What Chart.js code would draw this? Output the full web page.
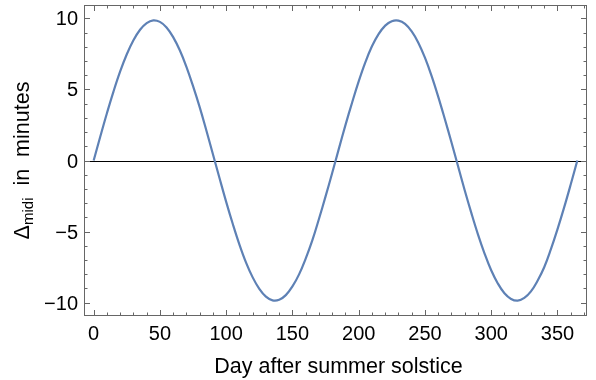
<!DOCTYPE html>
<html>
<head>
<meta charset="utf-8">
<script src="https://cdn.jsdelivr.net/npm/chart.js@4/dist/chart.umd.min.js"></script>
<style>
  body { margin: 0; background: #fff; }
  canvas { display: block; }
</style>
</head>
<body>
<canvas id="myChart" width="596" height="380"></canvas>
<script>
// data, every 5 days
const days = [0, 5, 10, 15, 20, 25, 30, 35, 40, 45, 50, 55, 60, 65, 70, 75, 80, 85, 90, 95,
  100, 105, 110, 115, 120, 125, 130, 135, 140, 145, 150, 155, 160, 165, 170, 175, 180, 185, 190, 195,
  200, 205, 210, 215, 220, 225, 230, 235, 240, 245, 250, 255, 260, 265, 270, 275, 280, 285, 290, 295,
  300, 305, 310, 315, 320, 325, 330, 335, 340, 345, 350, 355, 360, 365]
const deltaMidi = [0, 1.69, 3.33, 4.87, 6.27, 7.48, 8.47, 9.21, 9.68, 9.87, 9.76, 9.37, 8.69, 7.76, 6.60, 5.24, 3.76, 2.13, 0.44, -1.25,
  -2.91, -4.47, -5.92, -7.19, -8.23, -9.04, -9.59, -9.85, -9.81, -9.48, -8.87, -8.02, -6.91, -5.63, -4.12, -2.53, -0.88, 0.82, 2.49, 4.07,
  5.57, 6.91, 8.04, 8.90, 9.50, 9.81, 9.85, 9.62, 9.09, 8.30, 7.24, 5.96, 4.50, 2.92, 1.28, -0.41, -2.09, -3.69, -5.20, -6.55,
  -7.73, -8.66, -9.35, -9.75, -9.87, -9.68, -9.22, -8.47, -7.52, -6.26, -4.85, -3.32, -1.69, 0]
const xTicks = [0, 50, 100, 150, 200, 250, 300, 350]
const xMinor = [10, 20, 30, 40, 60, 70, 80, 90, 110, 120, 130, 140, 160, 170, 180, 190, 210, 220, 230, 240,
  260, 270, 280, 290, 310, 320, 330, 340, 360, 370]
const yTicks = [-10, -5, 0, 5, 10]
const yMinor = [-9, -8, -7, -6, -4, -3, -2, -1, 1, 2, 3, 4, 6, 7, 8, 9]
const xTitle = 'Day after summer solstice'

const frameColor = '#666'
const tickFont = '20px "Liberation Sans", Arial, sans-serif'
const titleFont = '21.5px "Liberation Sans", Arial, sans-serif'
const subFont = '15px "Liberation Sans", Arial, sans-serif'

// frame, inward ticks, labels and axis titles (Mathematica style)
const framePlugin = {
  id: 'frame',
  beforeDatasetsDraw(chart) {
    const {ctx, chartArea: a, scales: {y}} = chart
    ctx.save()
    // zero line
    ctx.strokeStyle = '#000'
    ctx.lineWidth = 1
    const y0 = Math.round(y.getPixelForValue(0)) + 0.5
    ctx.beginPath()
    ctx.moveTo(a.left, y0)
    ctx.lineTo(a.right, y0)
    ctx.stroke()
    ctx.restore()
  },
  afterDraw(chart) {
    const {ctx, chartArea: a, scales: {x, y}} = chart
    ctx.save()
    ctx.strokeStyle = frameColor
    ctx.lineWidth = 1
    ctx.strokeRect(a.left + 0.5, a.top + 0.5, a.right - a.left - 1, a.bottom - a.top - 1)

    const tickX = (v, len) => {
      const px = Math.round(x.getPixelForValue(v)) + 0.5
      ctx.moveTo(px, a.bottom); ctx.lineTo(px, a.bottom - len)
      ctx.moveTo(px, a.top); ctx.lineTo(px, a.top + len)
    }
    const tickY = (v, len) => {
      const py = Math.round(y.getPixelForValue(v)) + 0.5
      ctx.moveTo(a.left, py); ctx.lineTo(a.left + len, py)
      ctx.moveTo(a.right, py); ctx.lineTo(a.right - len, py)
    }
    ctx.beginPath()
    xTicks.forEach(v => tickX(v, 6))
    xMinor.forEach(v => tickX(v, 3.5))
    yTicks.forEach(v => tickY(v, 6))
    yMinor.forEach(v => tickY(v, 3.5))
    ctx.stroke()

    ctx.fillStyle = '#000'
    ctx.font = tickFont
    ctx.textAlign = 'center'
    ctx.textBaseline = 'alphabetic'
    xTicks.forEach(v => ctx.fillText(String(v), x.getPixelForValue(v), a.bottom + 24))
    ctx.textAlign = 'right'
    yTicks.forEach(v => {
      const s = v < 0 ? '\u2212' + Math.abs(v) : String(v)
      ctx.fillText(s, a.left - 6, y.getPixelForValue(v) + 7)
    })

    // x title
    ctx.textAlign = 'center'
    ctx.font = titleFont
    ctx.fillText(xTitle, (a.left + a.right) / 2 + 3, a.bottom + 57)

    // y title with subscript
    const parts = [['\u0394', titleFont, 0], ['midi', subFont, 4], ['  in  minutes', titleFont, 0]]
    let w = 0
    parts.forEach(p => { ctx.font = p[1]; w += ctx.measureText(p[0]).width })
    ctx.translate(29, (a.top + a.bottom) / 2)
    ctx.rotate(-Math.PI / 2)
    ctx.textAlign = 'left'
    let cx = -w / 2
    parts.forEach(p => {
      ctx.font = p[1]
      ctx.fillText(p[0], cx, p[2])
      cx += ctx.measureText(p[0]).width
    })
    ctx.restore()
  }
}

const data = {
  datasets: [{
    label: 'delta',
    data: days.map((d, i) => ({x: d, y: deltaMidi[i]})),
    borderColor: '#5e81b5',
    borderWidth: 2.2,
    pointRadius: 0,
    tension: 0.4,
    fill: false
  }]
}

const config = {
  type: 'line',
  data,
  options: {
    responsive: false,
    animation: false,
    devicePixelRatio: 1,
    layout: {
      padding: {left: 84, right: 9, top: 5, bottom: 64}
    },
    scales: {
      x: {type: 'linear', min: -7.3, max: 372.3, display: false},
      y: {type: 'linear', min: -10.95, max: 10.95, display: false}
    },
    plugins: {
      legend: {display: false},
      tooltip: {enabled: false}
    }
  },
  plugins: [framePlugin]
}

const myChart = new Chart(document.getElementById('myChart'), config)
</script>
</body>
</html>
